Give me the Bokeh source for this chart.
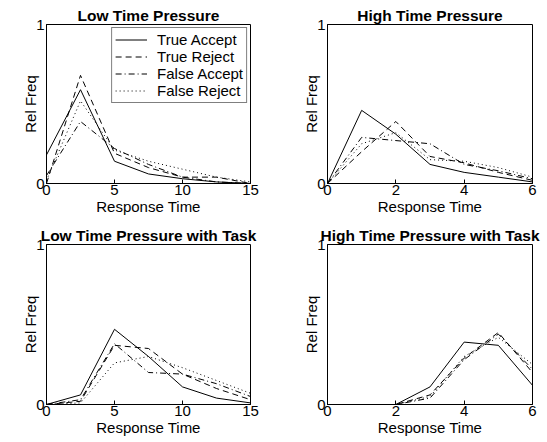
from bokeh.plotting import figure
from bokeh.layouts import gridplot
from bokeh.models import Range1d, FixedTicker, Legend, LegendItem
from bokeh.embed import file_html
from bokeh.resources import INLINE

series_names = ["True Accept", "True Reject", "False Accept", "False Reject"]
dashes = ["solid", "6 4", "6 3 1 3", "1 3"]

# Low Time Pressure
x_low = [0, 2.5, 5, 7.5, 10, 12.5, 15]
low_ta = [0.18, 0.59, 0.14, 0.06, 0.03, 0.01, 0.0]
low_tr = [0.0, 0.68, 0.19, 0.10, 0.04, 0.04, 0.0]
low_fa = [0.05, 0.39, 0.22, 0.12, 0.04, 0.01, 0.0]
low_fr = [0.02, 0.52, 0.21, 0.14, 0.09, 0.04, 0.01]

# High Time Pressure
x_high = [0, 1, 2, 3, 4, 5, 6]
high_ta = [0.0, 0.46, 0.31, 0.12, 0.07, 0.04, 0.01]
high_tr = [0.0, 0.20, 0.39, 0.17, 0.13, 0.07, 0.02]
high_fa = [0.0, 0.29, 0.27, 0.25, 0.12, 0.08, 0.03]
high_fr = [0.0, 0.25, 0.32, 0.15, 0.14, 0.10, 0.04]

# Low Time Pressure with Task
lowt_ta = [0.0, 0.06, 0.47, 0.30, 0.11, 0.04, 0.01]
lowt_tr = [0.0, 0.02, 0.37, 0.35, 0.19, 0.10, 0.03]
lowt_fa = [0.0, 0.03, 0.38, 0.20, 0.19, 0.13, 0.05]
lowt_fr = [0.0, 0.01, 0.26, 0.30, 0.23, 0.15, 0.07]

# High Time Pressure with Task
hight_ta = [0.0, 0.0, 0.0, 0.11, 0.39, 0.37, 0.12]
hight_tr = [0.0, 0.0, 0.0, 0.06, 0.29, 0.45, 0.20]
hight_fa = [0.0, 0.0, 0.0, 0.04, 0.28, 0.44, 0.22]
hight_fr = [0.0, 0.0, 0.0, 0.05, 0.30, 0.42, 0.25]

FONT = "Liberation Sans"
FS = "15px"


def make_panel(title, xs, ys_list, xmax, xticks, w, h, bl, br, bt, bb, legend=False):
    p = figure(width=w, height=h, output_backend="svg", toolbar_location=None,
               x_range=Range1d(0, xmax), y_range=Range1d(0, 1),
               min_border_left=bl, min_border_right=br,
               min_border_top=bt, min_border_bottom=bb)
    p.title.text = title
    p.title.align = "center"
    p.title.text_font = FONT
    p.title.text_font_style = "bold"
    p.title.text_font_size = "15.5px"
    p.title.text_color = "black"
    p.title.standoff = 1
    p.title.offset = 0
    p.xgrid.visible = False
    p.ygrid.visible = False
    p.outline_line_color = "black"
    p.outline_line_width = 1
    p.background_fill_color = "white"
    p.border_fill_color = "white"
    for ax in (p.xaxis[0], p.yaxis[0]):
        ax.major_tick_in = 4
        ax.major_tick_out = 0
        ax.minor_tick_in = 0
        ax.minor_tick_out = 0
        ax.axis_line_color = "black"
        ax.major_tick_line_color = "black"
        ax.major_label_text_font = FONT
        ax.major_label_text_font_size = FS
        ax.major_label_text_color = "black"
        ax.axis_label_text_font = FONT
        ax.axis_label_text_font_size = FS
        ax.axis_label_text_font_style = "normal"
        ax.axis_label_text_color = "black"
    p.xaxis[0].ticker = FixedTicker(ticks=xticks)
    p.yaxis[0].ticker = FixedTicker(ticks=[0, 1])
    p.xaxis[0].axis_label = "Response Time"
    p.yaxis[0].axis_label = "Rel Freq"
    p.xaxis[0].major_label_standoff = 1
    p.xaxis[0].axis_label_standoff = 0
    p.yaxis[0].major_label_standoff = 2
    p.yaxis[0].axis_label_standoff = -6
    renderers = []
    for ys, d in zip(ys_list, dashes):
        r = p.line(xs, ys, line_color="black", line_width=1, line_dash=d)
        renderers.append(r)
    if legend:
        items = [LegendItem(label=n, renderers=[r]) for n, r in zip(series_names, renderers)]
        lg = Legend(items=items, location="top_right")
        lg.margin = 3
        lg.padding = 3
        lg.spacing = 0
        lg.label_height = 17
        lg.glyph_height = 17
        lg.glyph_width = 32
        lg.label_standoff = 10
        lg.label_text_font = FONT
        lg.label_text_font_size = FS
        lg.label_text_color = "black"
        lg.border_line_color = "black"
        lg.border_line_width = 1
        lg.background_fill_alpha = 1
        p.add_layout(lg)
    return p


p1 = make_panel("Low Time Pressure", x_low, [low_ta, low_tr, low_fa, low_fr], 15, [0, 5, 10, 15],
                273, 220, 46, 23, 24, 37, legend=True)
p2 = make_panel("High Time Pressure", x_high, [high_ta, high_tr, high_fa, high_fr], 6, [0, 2, 4, 6],
                274, 220, 54, 15, 24, 37)
p3 = make_panel("Low Time Pressure with Task", x_low, [lowt_ta, lowt_tr, lowt_fa, lowt_fr], 15, [0, 5, 10, 15],
                273, 222, 46, 23, 24, 38)
p4 = make_panel("High Time Pressure with Task", x_high, [hight_ta, hight_tr, hight_fa, hight_fr], 6, [0, 2, 4, 6],
                274, 222, 54, 15, 24, 38)

grid = gridplot([[p1, p2], [p3, p4]], toolbar_location=None)
open("out.html", "w").write(file_html(grid, INLINE))
